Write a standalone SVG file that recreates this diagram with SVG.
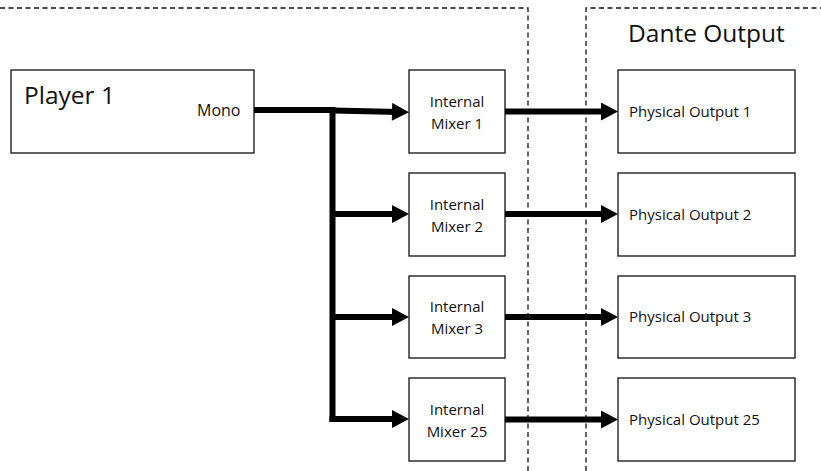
<svg xmlns="http://www.w3.org/2000/svg" width="821" height="471" viewBox="0 0 821 471">
<style>
.box{fill:#fff;stroke:#222;stroke-width:1.4}
.t{font-family:"Open Sans","Liberation Sans",sans-serif;fill:#111}
.s{font-size:15px}
.c{text-anchor:middle}
.big{font-size:24.5px}
.dash{fill:none;stroke:#111;stroke-width:1.3;stroke-dasharray:5 3.5}
.w{fill:none;stroke:#000;stroke-width:6}
.a{fill:none;stroke:#000;stroke-width:6;marker-end:url(#ah)}
</style>
<defs>
<marker id="ah" markerUnits="userSpaceOnUse" markerWidth="18" markerHeight="18" refX="7" refY="9" orient="auto" viewBox="0 0 17 18">
<path d="M0,0 L17,9 L0,18 Z" fill="#000"/>
</marker>
</defs>
<g id="regions">
<path class="dash" d="M0,8 H528 V471"/>
<path class="dash" d="M586,471 V8 H821"/>
<text class="t big" x="628" y="41.5">Dante Output</text>
</g>
<g id="player1">
<rect class="box" x="11" y="70" width="243" height="83"/>
<text class="t big" x="24" y="104">Player 1</text>
<text class="t" x="197" y="116" font-size="16">Mono</text>
</g>
<g id="mixer1">
<rect class="box" x="409" y="70" width="96" height="83"/>
<text class="t s c" x="457" y="107">Internal</text>
<text class="t s c" x="457" y="129">Mixer 1</text>
</g>
<g id="mixer2">
<rect class="box" x="409" y="173" width="96" height="83"/>
<text class="t s c" x="457" y="210">Internal</text>
<text class="t s c" x="457" y="232">Mixer 2</text>
</g>
<g id="mixer3">
<rect class="box" x="409" y="276" width="96" height="82"/>
<text class="t s c" x="457" y="312">Internal</text>
<text class="t s c" x="457" y="334">Mixer 3</text>
</g>
<g id="mixer25">
<rect class="box" x="409" y="378" width="96" height="83"/>
<text class="t s c" x="457" y="415">Internal</text>
<text class="t s c" x="457" y="437">Mixer 25</text>
</g>
<g id="out1">
<rect class="box" x="618" y="70" width="177" height="83"/>
<text class="t s" x="629" y="117">Physical Output 1</text>
</g>
<g id="out2">
<rect class="box" x="618" y="173" width="177" height="83"/>
<text class="t s" x="629" y="219.5">Physical Output 2</text>
</g>
<g id="out3">
<rect class="box" x="618" y="276" width="177" height="82"/>
<text class="t s" x="629" y="322">Physical Output 3</text>
</g>
<g id="out25">
<rect class="box" x="618" y="378" width="177" height="83"/>
<text class="t s" x="629" y="424.5">Physical Output 25</text>
</g>
<g id="connectors">
<path class="w" d="M254,110 H333"/>
<path class="w" d="M332.5,107 V422"/>
<path class="a" d="M333,110.5 L399,112"/>
<path class="a" d="M332.5,214 H399"/>
<path class="a" d="M332.5,317 H399"/>
<path class="a" d="M329.5,419 H399"/>
<path class="a" d="M505,111.5 H608"/>
<path class="a" d="M505,214 H608"/>
<path class="a" d="M505,317 H608"/>
<path class="a" d="M505,419.5 H608"/>
</g>
</svg>
